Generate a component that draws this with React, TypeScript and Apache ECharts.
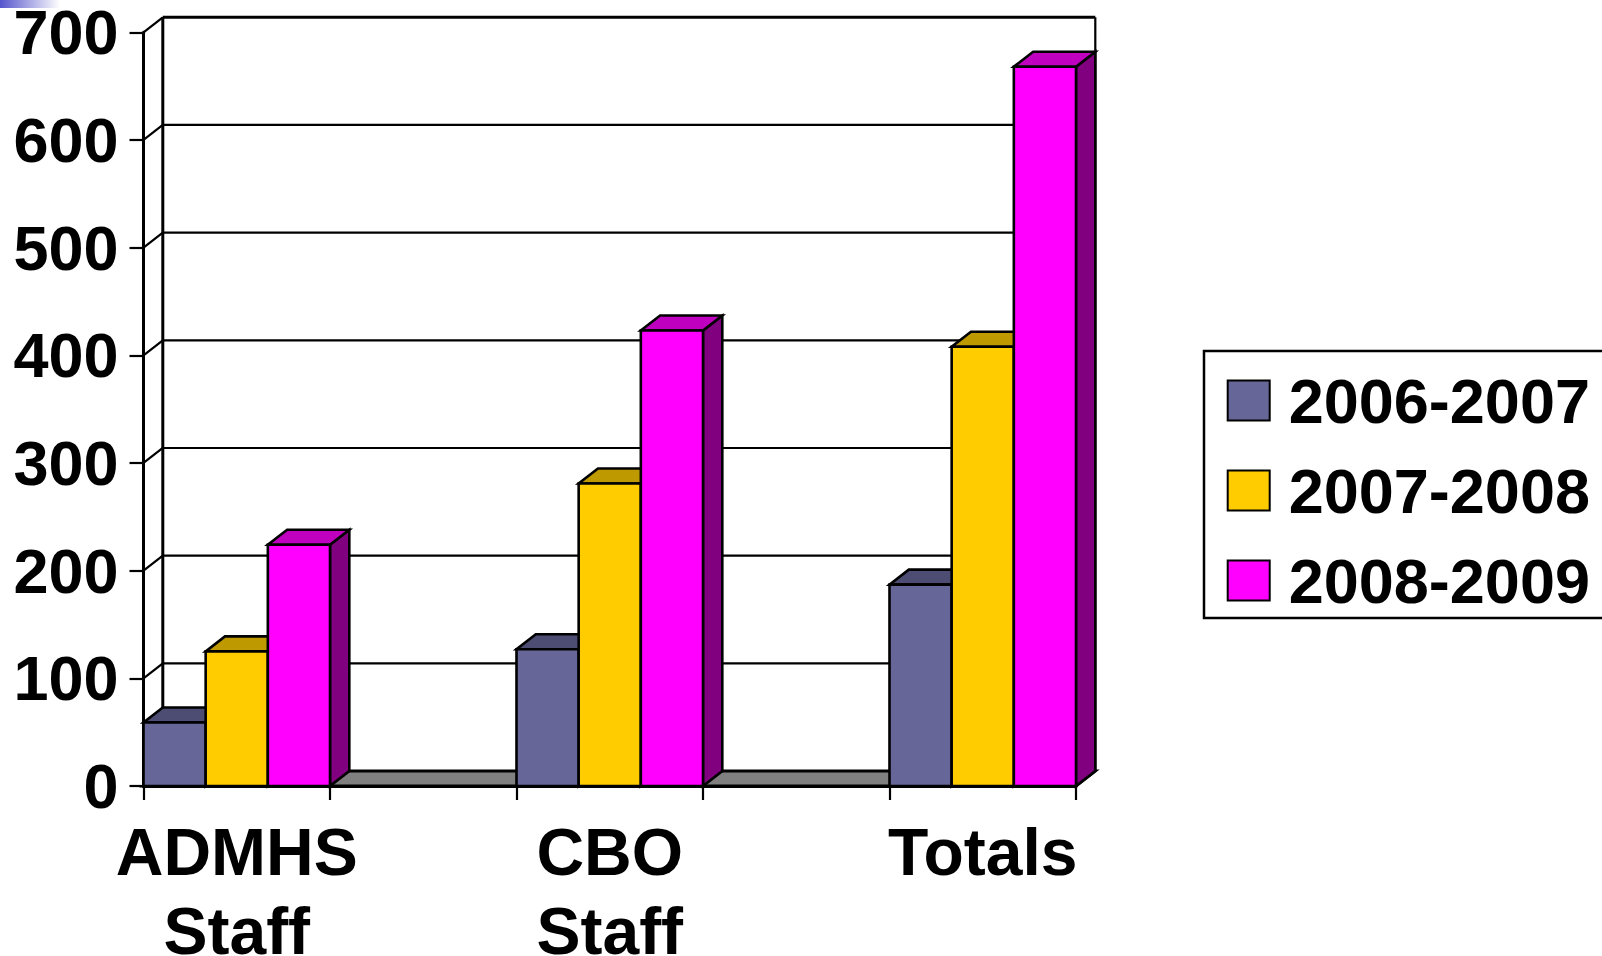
import React, { useEffect, useRef } from "react";
import * as echarts from "echarts";

// ---- data ----
const categories = ["ADMHS\nStaff", "", "CBO\nStaff", "", "Totals"];
const seriesNames = ["2006-2007", "2007-2008", "2008-2009"];
const values2006 = [59, null, 127, null, 187];
const values2007 = [125, null, 281, null, 408];
const values2008 = [224, null, 423, null, 668];
const yTicks = [0, 100, 200, 300, 400, 500, 600, 700];

// ---- styles ----
const seriesValues = [values2006, values2007, values2008];
const FRONT = ["#666699", "#ffcc00", "#ff00ff"];
const TOP = ["#4d4d73", "#bf9900", "#bf00bf"];
const SIDE = ["#333366", "#806600", "#800080"];
const DX = 19.3;
const DY = -15;
const FONT = "'Liberation Sans', Arial, Helvetica, sans-serif";

export default function App() {
  const ref = useRef<HTMLDivElement>(null);

  useEffect(() => {
    if (!ref.current) return;
    const chart = echarts.init(ref.current, undefined, { renderer: "svg" });

    const frameSeries: any = {
      type: "custom",
      name: "frame",
      z: 1,
      silent: true,
      encode: { x: 0, y: 1 },
      data: yTicks.map((v) => [0, v]),
      renderItem: (params: any, api: any) => {
        const cs = params.coordSys;
        const v = api.value(1);
        const y = api.coord([0, v])[1];
        const left = cs.x;
        const right = cs.x + cs.width;
        const bottom = cs.y + cs.height;
        const top = cs.y;
        const children: any[] = [];
        const isTop = v === yTicks[yTicks.length - 1];
        children.push({
          type: "line",
          shape: { x1: left + DX, y1: y + DY, x2: right + DX, y2: y + DY },
          style: { stroke: "#000", lineWidth: isTop ? 3 : 2.2 },
        });
        children.push({
          type: "line",
          shape: { x1: left, y1: y, x2: left + DX, y2: y + DY },
          style: { stroke: "#000", lineWidth: 2.2 },
        });
        if (params.dataIndex === 0) {
          children.push({
            type: "line",
            shape: { x1: left + DX, y1: top + DY, x2: left + DX, y2: bottom + DY },
            style: { stroke: "#000", lineWidth: 3 },
          });
          children.push({
            type: "line",
            shape: { x1: right + DX, y1: top + DY, x2: right + DX, y2: bottom + DY },
            style: { stroke: "#000", lineWidth: 2.2 },
          });
          children.push({
            type: "polygon",
            shape: {
              points: [
                [left, bottom],
                [right, bottom],
                [right + DX, bottom + DY],
                [left + DX, bottom + DY],
              ],
            },
            style: { fill: "#808080", stroke: "#000", lineWidth: 3, lineJoin: "miter" },
          });
        }
        return { type: "group", children };
      },
    };

    const makeBarSeries = (s: number): any => ({
      type: "custom",
      name: seriesNames[s],
      z: 3,
      itemStyle: { color: FRONT[s], borderColor: "#000", borderWidth: 2 },
      encode: { x: 0, y: 1 },
      data: seriesValues[s]
        .map((v, i) => (v == null ? null : [i, v]))
        .filter((d) => d !== null),
      renderItem: (params: any, api: any) => {
        const i = api.value(0);
        const v = api.value(1);
        const catW = api.size([1, 0])[0];
        const barW = catW / 3;
        const c = api.coord([i, 0]);
        const x0 = c[0] - catW / 2 + s * barW;
        const x1 = x0 + barW;
        const yb = c[1];
        const yt = api.coord([i, v])[1];
        const st = { stroke: "#000", lineWidth: 2.6, lineJoin: "miter" };
        return {
          type: "group",
          children: [
            {
              type: "polygon",
              shape: {
                points: [
                  [x1, yt],
                  [x1 + DX, yt + DY],
                  [x1 + DX, yb + DY],
                  [x1, yb],
                ],
              },
              style: { fill: SIDE[s], ...st },
            },
            {
              type: "polygon",
              shape: {
                points: [
                  [x0, yt],
                  [x1, yt],
                  [x1 + DX, yt + DY],
                  [x0 + DX, yt + DY],
                ],
              },
              style: { fill: TOP[s], ...st },
            },
            {
              type: "rect",
              shape: { x: x0, y: yt, width: barW, height: yb - yt },
              style: { fill: FRONT[s], ...st },
            },
          ],
        };
      },
    });

    chart.setOption({
      animation: false,
      backgroundColor: "#ffffff",
      grid: {
        left: 143.5,
        top: 32.3,
        width: 932.5,
        height: 753.7,
        containLabel: false,
        outerBoundsMode: "none",
      },
      xAxis: {
        type: "category",
        data: categories,
        boundaryGap: true,
        axisLine: { show: true, lineStyle: { color: "#000", width: 3 } },
        axisTick: { show: true, interval: 0, length: 14, lineStyle: { color: "#000", width: 2.2 } },
        axisLabel: {
          interval: 0,
          margin: 26,
          fontSize: 66,
          fontWeight: "bold",
          fontFamily: FONT,
          color: "#000",
          lineHeight: 79,
        },
        splitLine: { show: false },
      },
      yAxis: {
        type: "value",
        min: 0,
        max: 700,
        interval: 100,
        axisLine: { show: true, lineStyle: { color: "#000", width: 3 } },
        axisTick: { show: true, length: 14, lineStyle: { color: "#000", width: 2.2 } },
        axisLabel: {
          margin: 25,
          fontSize: 63,
          fontWeight: "bold",
          fontFamily: FONT,
          color: "#000",
          lineHeight: 50,
        },
        splitLine: { show: false },
      },
      legend: {
        orient: "vertical",
        left: 1226.7,
        top: 369,
        padding: 0,
        itemWidth: 42,
        itemHeight: 40,
        itemGap: 27,
        icon: "rect",
        selectedMode: false,
        data: seriesNames.map((n, s) => ({
          name: n,
          itemStyle: { color: FRONT[s], borderColor: "#000", borderWidth: 2 },
        })),
        textStyle: {
          fontSize: 63,
          fontWeight: "bold",
          fontFamily: FONT,
          color: "#000",
          lineHeight: 62,
          padding: [0, 0, 0, 14],
        },
      },
      graphic: [
        {
          type: "rect",
          z: 0,
          shape: { x: 1204, y: 351, width: 420, height: 267 },
          style: { fill: "#fff", stroke: "#000", lineWidth: 2.5 },
        },
        {
          type: "rect",
          z: 0,
          shape: { x: 0, y: 0, width: 60, height: 8 },
          style: {
            fill: new echarts.graphic.LinearGradient(0, 0, 1, 0, [
              { offset: 0, color: "#5555cc" },
              { offset: 1, color: "#ffffff" },
            ]),
          },
        },
      ],
      series: [frameSeries, makeBarSeries(0), makeBarSeries(1), makeBarSeries(2)],
    });

    return () => chart.dispose();
  }, []);

  return (
    <div
      ref={ref}
      style={{ position: "fixed", left: 0, top: 0, width: 1602, height: 956, background: "#fff" }}
    />
  );
}
